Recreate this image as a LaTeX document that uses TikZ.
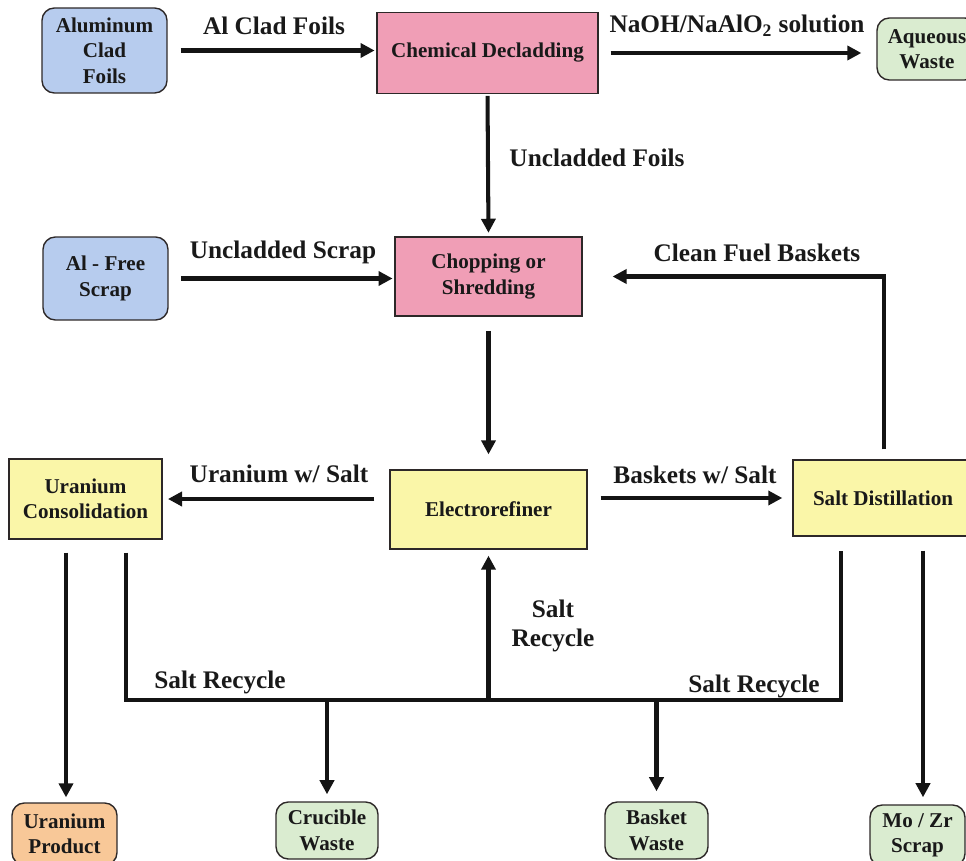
\documentclass[tikz,border=0pt]{standalone}
\usepackage{fontspec}
\setmainfont{Liberation Serif}
\usetikzlibrary{arrows.meta,calc}
\definecolor{cblue}{RGB}{183,204,238}
\definecolor{cpink}{RGB}{240,158,182}
\definecolor{cyel}{RGB}{250,246,168}
\definecolor{cgreen}{RGB}{218,236,208}
\definecolor{corange}{RGB}{248,200,152}
\definecolor{cedge}{RGB}{45,40,40}
\begin{document}
\begin{tikzpicture}[x=0.02cm,y=-0.02cm,
  box/.style={draw=cedge, line width=0.8pt, align=center, inner sep=0pt,
    font=\fontsize{12}{14.5}\selectfont\bfseries, text=black!90},
  rbox/.style={box, rounded corners=7pt},
  lbl/.style={font=\fontsize{14.4}{16.5}\selectfont\bfseries, align=center, inner sep=0pt, text=black!90},
  conn/.style={line width=2.3pt, line join=miter, draw=black!92},
  arr/.style={conn, -{Triangle[length=8pt,width=8pt]}},
]
\useasboundingbox (0,0) rectangle (966,861);
\clip (0,0) rectangle (966,861);

% nodes
\node[rbox, fill=cblue, minimum width=2.5cm, minimum height=1.7cm] (acf) at (104.5,50.5) {Aluminum\\Clad\\Foils};
\node[box, fill=cpink, minimum width=4.42cm, minimum height=1.62cm] (chem) at (487.5,53) {Chemical Decladding};
\node[rbox, fill=cgreen, minimum width=2.0cm, minimum height=1.24cm] (aq) at (927,49) {Aqueous\\Waste};
\node[box, fill=cpink, minimum width=3.74cm, minimum height=1.58cm] (chop) at (488.5,276.5) {Chopping or\\Shredding};
\node[rbox, fill=cblue, minimum width=2.5cm, minimum height=1.66cm] (afs) at (105.5,278.5) {Al - Free\\Scrap};
\node[box, fill=cyel, minimum width=3.94cm, minimum height=1.58cm] (elec) at (488.5,509.5) {Electrorefiner};
\node[box, fill=cyel, minimum width=3.06cm, minimum height=1.6cm] (uc) at (85.5,499) {Uranium\\Consolidation};
\node[box, fill=cyel, minimum width=3.6cm, minimum height=1.52cm] (sd) at (883,498) {Salt Distillation};
\node[rbox, fill=corange, minimum width=2.1cm, minimum height=1.24cm] (up) at (64.5,834) {Uranium\\Product};
\node[rbox, fill=cgreen, minimum width=2.04cm, minimum height=1.14cm] (cw) at (327,830.5) {Crucible\\Waste};
\node[rbox, fill=cgreen, minimum width=2.06cm, minimum height=1.14cm] (bw) at (656.5,830.5) {Basket\\Waste};
\node[rbox, fill=cgreen, minimum width=1.9cm, minimum height=1.22cm] (mz) at (917.5,835.5) {Mo / Zr\\Scrap};

% labels
\node[lbl, anchor=base] (l1) at (274,35) {Al Clad Foils};
\node[lbl, anchor=base] (l2) at (737,33) {NaOH/NaAlO$_{\mathbf{2}}$ solution};
\node[lbl, anchor=base] (l3) at (597,167) {Uncladded Foils};
\node[lbl, anchor=base] (l4) at (283,259) {Uncladded Scrap};
\node[lbl, anchor=base] (l5) at (757,262) {Clean Fuel Baskets};
\node[lbl, anchor=base] (l6) at (279,482) {Uranium w/ Salt};
\node[lbl, anchor=base] (l7) at (695,483) {Baskets w/ Salt};
\node[lbl] (l8) at (553,626) {Salt\\Recycle};
\node[lbl, anchor=base] (l9) at (220,688) {Salt Recycle};
\node[lbl, anchor=base] (l10) at (754,692) {Salt Recycle};

% top connectors
\draw[arr, shorten <=7.4pt, shorten >=1pt] (acf.east) -- (chem.west |- acf.east);
\draw[arr, shorten <=6.8pt, shorten >=8.5pt] (chem.east) -- (aq.west |- chem.east);
\draw[arr, shorten <=1pt, shorten >=2pt] (chem.south) -- (chop.north);
\draw[arr, shorten <=7pt, shorten >=1pt] (afs.east) -- (chop.west |- afs.east);
\draw[arr, shorten <=5.7pt, shorten >=17pt] ($(sd.north)+(1,0)$) |- (chop.east);
\draw[arr, shorten <=8pt, shorten >=8.5pt] (chop.south) -- (elec.north);
\draw[arr, shorten <=8.5pt, shorten >=3pt] (elec.west |- uc.east) -- (uc.east);
\draw[arr, shorten <=7.4pt, shorten >=5.7pt] (elec.east |- sd.west) -- (sd.west);

% bottom network
\coordinate (bus) at (0,700);
\coordinate (ucA) at ($(uc.south)+(-19.5,13)$);
\coordinate (ucB) at ($(uc.south)+(40.5,13)$);
\coordinate (sdA) at ($(sd.south)+(-42,14)$);
\coordinate (sdB) at ($(sd.south)+(40,14)$);
\draw[conn] (ucB) |- (bus -| sdA) -- (sdA);
\draw[arr, shorten >=3.4pt] (bus -| elec.south) -- (elec.south);
\draw[arr, shorten >=4pt] (bus -| cw.north) -- (cw.north);
\draw[arr, shorten >=5.7pt] (bus -| bw.north) -- (bw.north);
\draw[arr, shorten >=2.8pt] (ucA) -- (ucA |- up.north);
\draw[arr, shorten >=4pt] (sdB) -- (sdB |- mz.north);
\end{tikzpicture}
\end{document}
